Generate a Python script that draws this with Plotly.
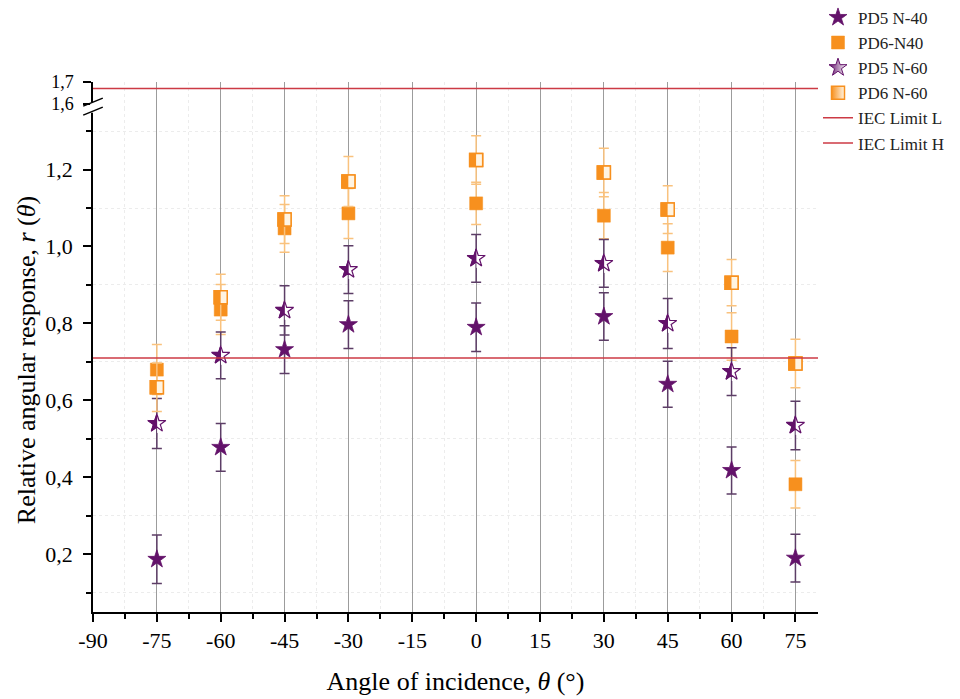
import plotly.graph_objects as go

# ---------------- data ----------------
angles = [-75, -60, -45, -30, 0, 30, 45, 60, 75]

pd5_n40 = [0.187, 0.478, 0.732, 0.797, 0.790, 0.818, 0.642, 0.418, 0.190]
pd5_n40_err = [0.063, 0.062, 0.062, 0.062, 0.063, 0.062, 0.060, 0.061, 0.062]

pd6_n40 = [0.680, 0.836, 1.047, 1.086, 1.112, 1.080, 0.997, 0.766, 0.382]
pd6_n40_err = [0.065, 0.065, 0.062, 0.065, 0.055, 0.060, 0.062, 0.062, 0.062]

pd5_n60 = [0.540, 0.717, 0.834, 0.940, 0.969, 0.956, 0.800, 0.675, 0.535]
pd5_n60_err = [0.065, 0.061, 0.064, 0.062, 0.062, 0.062, 0.065, 0.062, 0.063]

pd6_n60 = [0.634, 0.868, 1.070, 1.169, 1.225, 1.192, 1.096, 0.906, 0.696]
pd6_n60_err = [0.063, 0.060, 0.062, 0.065, 0.063, 0.063, 0.062, 0.060, 0.063]

iec_limit_l = 0.71
iec_limit_h = 1.67

x_range = [-90, 80.3]
x_ticks = [-90, -75, -60, -45, -30, -15, 0, 15, 30, 45, 60, 75]
x_tick_labels = ["-90", "-75", "-60", "-45", "-30", "-15", "0", "15", "30", "45", "60", "75"]
y_low_range = [0.05, 1.36]
y_high_range = [1.582, 1.70]
y_high_ticks = [1.6, 1.7]

# ---------------- style ----------------
PURPLE = "#63126a"
PURPLE_ERR = "#5c3d66"
ORANGE = "#f7901e"
ORANGE_LIGHT = "#fff4e2"
ORANGE_ERR = "#f9c27e"
RED = "#cc3a44"
FONT = "Liberation Serif"
STAR = 13.5
SQ = 13

fig = go.Figure()

def err(arr, color):
    return dict(type="data", array=arr, visible=True, color=color, thickness=1.5, width=5)

def overlay(y, marker):
    fig.add_trace(go.Scatter(x=angles, y=y, mode="markers", showlegend=False,
                             hoverinfo="skip", marker=marker, xaxis="x", yaxis="y"))

# PD5 N-40 : filled star
fig.add_trace(go.Scatter(
    x=angles, y=pd5_n40, mode="markers", name="PD5 N-40",
    marker=dict(symbol="star", size=STAR, color=PURPLE, line=dict(width=0.8, color=PURPLE)),
    error_y=err(pd5_n40_err, PURPLE_ERR), xaxis="x", yaxis="y"))

# PD6-N40 : filled square
fig.add_trace(go.Scatter(
    x=angles, y=pd6_n40, mode="markers", name="PD6-N40",
    marker=dict(symbol="square", size=SQ, color=ORANGE, line=dict(width=0.5, color=ORANGE)),
    error_y=err(pd6_n40_err, ORANGE_ERR), xaxis="x", yaxis="y"))

# PD5 N-60 : half-filled star
fig.add_trace(go.Scatter(
    x=angles, y=pd5_n60, mode="markers", name="PD5 N-60",
    marker=dict(symbol="star", size=STAR, color=PURPLE,
                gradient=dict(type="horizontal", color="white"),
                line=dict(width=1.0, color=PURPLE)),
    error_y=err(pd5_n60_err, PURPLE_ERR), xaxis="x", yaxis="y"))
overlay(pd5_n60, dict(symbol="star", size=STAR, color=PURPLE, line=dict(width=0)))
overlay(pd5_n60, dict(symbol="line-ew", size=STAR, angle=270, standoff=STAR * 0.35,
                      line=dict(width=STAR * 0.66, color="white")))
overlay(pd5_n60, dict(symbol="star-open", size=STAR, color=PURPLE,
                      line=dict(width=1.2, color=PURPLE)))

# PD6 N-60 : half-filled square
fig.add_trace(go.Scatter(
    x=angles, y=pd6_n60, mode="markers", name="PD6 N-60",
    marker=dict(symbol="square", size=SQ, color=ORANGE,
                gradient=dict(type="horizontal", color=ORANGE_LIGHT),
                line=dict(width=1.5, color=ORANGE)),
    error_y=err(pd6_n60_err, ORANGE_ERR), xaxis="x", yaxis="y"))
overlay(pd6_n60, dict(symbol="line-ew", size=SQ / 1.4, angle=90, standoff=SQ / 4,
                      line=dict(width=SQ / 2, color=ORANGE)))
overlay(pd6_n60, dict(symbol="line-ew", size=SQ / 1.4, angle=270, standoff=SQ / 4,
                      line=dict(width=SQ / 2, color=ORANGE_LIGHT)))
overlay(pd6_n60, dict(symbol="square-open", size=SQ, color=ORANGE,
                      line=dict(width=1.5, color=ORANGE)))

# IEC limits
fig.add_trace(go.Scatter(
    x=x_range, y=[iec_limit_l, iec_limit_l], mode="lines", name="IEC Limit L",
    line=dict(color=RED, width=1.5), xaxis="x", yaxis="y"))
fig.add_trace(go.Scatter(
    x=x_range, y=[iec_limit_h, iec_limit_h], mode="lines", name="IEC Limit H",
    line=dict(color=RED, width=1.5), xaxis="x2", yaxis="y2"))

split = 0.951
tickfont = dict(family=FONT, size=22, color="black")

fig.update_layout(
    width=960, height=699,
    margin=dict(l=93, r=142, t=82, b=87, autoexpand=False),
    paper_bgcolor="white", plot_bgcolor="white",
    separators=", ",
    font=dict(family=FONT, size=16, color="black"),
    showlegend=True,
    legend=dict(x=1.0, xanchor="left", y=1.155, yanchor="top",
                font=dict(family=FONT, size=17, color="#222"),
                bgcolor="rgba(0,0,0,0)", tracegroupgap=0, itemwidth=30),
    xaxis=dict(
        domain=[0, 1], range=x_range, anchor="y",
        tickmode="array", tickvals=x_ticks, ticktext=x_tick_labels,
        ticks="outside", ticklen=8, tickwidth=1.5, tickcolor="black",
        showline=True, linecolor="black", linewidth=1.5,
        showgrid=True, gridcolor="#9c9c9c", gridwidth=1, zeroline=False,
        minor=dict(tick0=-90, dtick=7.5, ticks="outside", ticklen=5, tickwidth=1.5,
                   tickcolor="black", showgrid=True, gridcolor="#ececec",
                   griddash="dot", gridwidth=1),
        tickfont=tickfont,
        title=dict(text="Angle of incidence, <i>θ</i> (°)",
                   font=dict(family=FONT, size=26, color="black"), standoff=20),
    ),
    yaxis=dict(
        domain=[0, split], range=y_low_range, anchor="x",
        tickmode="linear", tick0=0, dtick=0.2, tickformat=".1f",
        ticks="outside", ticklen=8, tickwidth=1.5, tickcolor="black",
        ticklabelstandoff=6,
        showline=True, linecolor="black", linewidth=1.5,
        showgrid=False, zeroline=False,
        minor=dict(tick0=0, dtick=0.1, ticks="outside", ticklen=5, tickwidth=1.5,
                   tickcolor="black", showgrid=True, gridcolor="#ececec",
                   griddash="dot", gridwidth=1),
        tickfont=tickfont,
        title=dict(text="Relative angular response, <i>r</i> (<i>θ</i>)",
                   font=dict(family=FONT, size=26, color="black"), standoff=2),
    ),
    xaxis2=dict(
        domain=[0, 1], range=x_range, anchor="y2", matches="x",
        tickmode="array", tickvals=x_ticks,
        showticklabels=False, ticks="", showline=False,
        showgrid=True, gridcolor="#9c9c9c", gridwidth=1, zeroline=False,
        minor=dict(tick0=-90, dtick=7.5, showgrid=True, gridcolor="#ececec",
                   griddash="dot", gridwidth=1),
    ),
    yaxis2=dict(
        domain=[split, 1], range=y_high_range, anchor="x2",
        tickmode="array", tickvals=y_high_ticks, tickformat=".1f",
        ticks="outside", ticklen=8, tickwidth=1.5, tickcolor="black",
        ticklabelstandoff=6,
        showline=True, linecolor="black", linewidth=1.5,
        showgrid=False, zeroline=False,
        tickfont=dict(family=FONT, size=18, color="black"),
    ),
)

# axis-break marks on the y axis
fig.add_shape(type="rect", xref="paper", yref="paper",
              x0=-0.004, x1=0.004, y0=0.942, y1=0.962,
              fillcolor="white", line=dict(width=0))
for yc in (0.962, 0.945):
    fig.add_shape(type="line", xref="paper", yref="paper",
                  x0=-0.0135, x1=0.0135, y0=yc - 0.0075, y1=yc + 0.0075,
                  line=dict(color="black", width=1.5))

fig.write_html("out.html")
